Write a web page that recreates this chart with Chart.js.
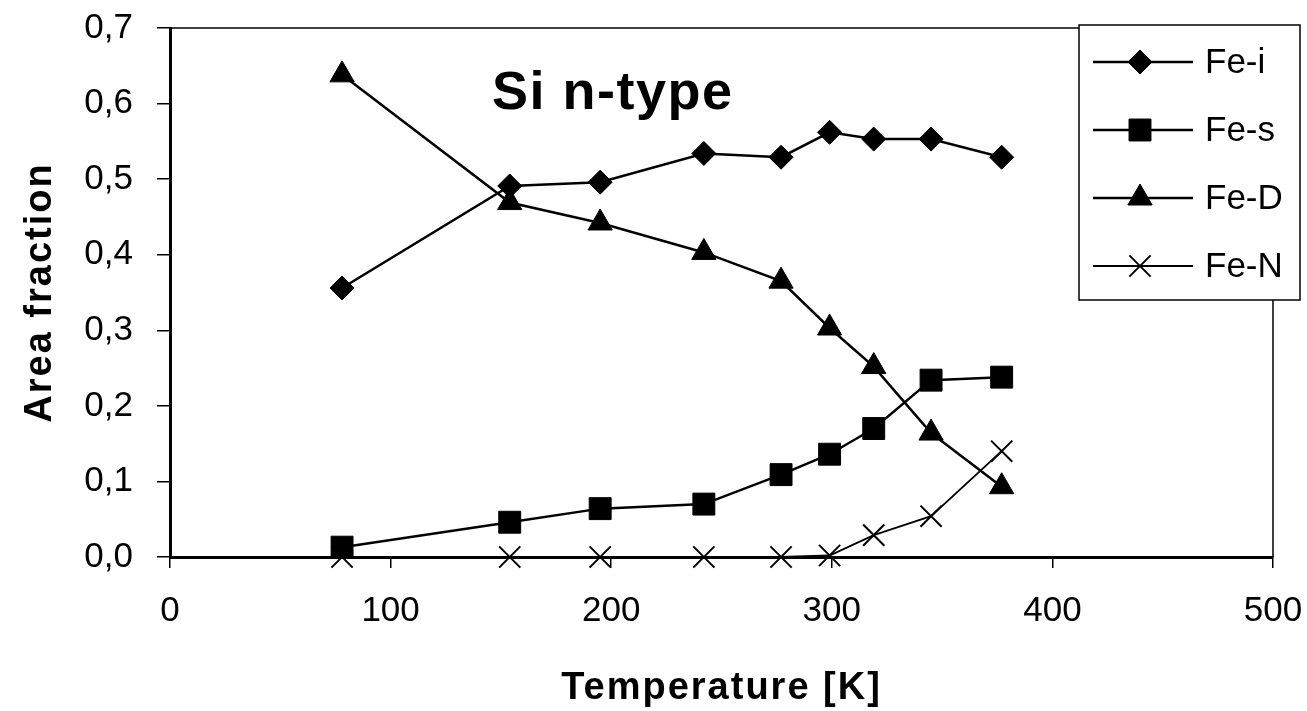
<!DOCTYPE html>
<html>
<head>
<meta charset="utf-8">
<script src="https://cdn.jsdelivr.net/npm/chart.js@4.4.1/dist/chart.umd.min.js"></script>
<style>
  html, body { margin: 0; padding: 0; background: #fff; }
  #wrap { width: 1307px; height: 711px; }
</style>
</head>
<body>
<div id="wrap"><canvas id="myChart" width="1307" height="711"></canvas></div>
<script>
// values
var temps = [78, 154, 195, 242, 277, 299, 319, 345, 377]
var feI = [0.356, 0.491, 0.496, 0.534, 0.529, 0.562, 0.553, 0.553, 0.529]
var feS = [0.013, 0.046, 0.064, 0.070, 0.109, 0.136, 0.170, 0.234, 0.238]
var feD = [0.638, 0.469, 0.442, 0.403, 0.365, 0.303, 0.252, 0.164, 0.093]
var feN = [0, 0, 0, 0, 0, 0.002, 0.029, 0.054, 0.140]
var seriesNames = ['Fe-i', 'Fe-s', 'Fe-D', 'Fe-N']
var xTicks = [0, 100, 200, 300, 400, 500]
var yTicks = [0, 0.1, 0.2, 0.3, 0.4, 0.5, 0.6, 0.7]

var plain = "'Liberation Sans', Arial, sans-serif"

function pts(vals) {
    return vals.map((v, i) => ({ x: temps[i], y: v }))
}

function makeSet(label, vals, style, radius, width) {
    return {
        label: label,
        data: pts(vals),
        borderColor: '#000',
        backgroundColor: '#000',
        borderWidth: width,
        pointStyle: style,
        pointRadius: radius,
        pointHoverRadius: radius,
        pointBackgroundColor: '#000',
        pointBorderColor: '#000',
        pointBorderWidth: style == 'crossRot' ? 2 : 1,
        tension: 0,
        clip: false
    }
}

// fixed box sizes, no extra label padding, spaced-out titles
function fitScale(scale, size) {
    if (scale.isHorizontal()) scale.height = size
    else scale.width = size
    scale.paddingTop = 0
    scale.paddingBottom = 0
    scale.paddingLeft = 0
    scale.paddingRight = 0
    if (scale._spaced) return
    scale._spaced = true
    const orig = scale.drawTitle
    scale.drawTitle = function () {
        this.ctx.save()
        this.ctx.letterSpacing = '2px'
        orig.call(this)
        this.ctx.restore()
    }
}

var framePlugin = {
    id: 'frame',
    beforeDatasetsDraw(chart) {
        const a = chart.chartArea, c = chart.ctx
        c.save()
        c.strokeStyle = '#000'
        c.lineWidth = 1.5
        c.beginPath()
        c.moveTo(a.left, a.top)
        c.lineTo(a.right, a.top)
        c.lineTo(a.right, a.bottom)
        c.stroke()
        // inner title
        const x = chart.scales.x, y = chart.scales.y
        c.fillStyle = '#000'
        c.font = 'bold 54px ' + plain
        c.letterSpacing = '1.5px'
        c.textAlign = 'left'
        c.textBaseline = 'middle'
        c.fillText('Si n-type', x.getPixelForValue(146), y.getPixelForValue(0.612))
        c.restore()
    }
}

var legendPlugin = {
    id: 'boxLegend',
    afterDraw(chart) {
        const a = chart.chartArea, c = chart.ctx
        const left = a.right - 194, top = a.top - 3, w = 221, h = 275
        c.save()
        c.fillStyle = '#fff'
        c.fillRect(left, top, w, h)
        c.strokeStyle = '#000'
        c.lineWidth = 1.5
        c.strokeRect(left, top, w, h)
        chart.data.datasets.forEach((ds, i) => {
            const yy = top + 37 + i * 68
            c.strokeStyle = '#000'
            c.lineWidth = ds.borderWidth
            c.beginPath()
            c.moveTo(left + 14, yy)
            c.lineTo(left + 114, yy)
            c.stroke()
            c.fillStyle = '#000'
            c.lineWidth = ds.pointBorderWidth
            Chart.helpers.drawPoint(c, { pointStyle: ds.pointStyle, radius: ds.pointRadius, rotation: 0, borderWidth: ds.pointBorderWidth }, left + 61, yy)
            c.font = '35px ' + plain
            c.textAlign = 'left'
            c.textBaseline = 'middle'
            c.fillText(ds.label, left + 126, yy + 1)
        })
        c.restore()
    }
}

var ctx = document.getElementById('myChart').getContext('2d')
var myChart = new Chart(ctx, {
    type: 'line',
    data: {
        datasets: [
            makeSet(seriesNames[0], feI, 'rectRot', 12, 2.5),
            makeSet(seriesNames[1], feS, 'rect', 15.5, 2.5),
            makeSet(seriesNames[2], feD, 'triangle', 14, 2.5),
            makeSet(seriesNames[3], feN, 'crossRot', 15, 1.8)
        ]
    },
    options: {
        responsive: false,
        animation: false,
        events: [],
        layout: { padding: { left: 0, top: 28, right: 34, bottom: 0 } },
        plugins: {
            legend: { display: false },
            tooltip: { enabled: false }
        },
        scales: {
            x: {
                type: 'linear',
                min: xTicks[0],
                max: xTicks[xTicks.length - 1],
                afterFit(scale) { fitScale(scale, 154) },
                afterBuildTicks(scale) { scale.ticks = xTicks.map(v => ({ value: v })) },
                border: { display: true, color: '#000', width: 3 },
                grid: { drawOnChartArea: false, drawTicks: true, tickLength: 11, color: '#000', lineWidth: 1.5 },
                ticks: {
                    color: '#000',
                    padding: 22,
                    maxRotation: 0,
                    font: { family: plain, size: 35 },
                    callback: v => String(v)
                },
                title: {
                    display: true,
                    text: 'Temperature [K]',
                    color: '#000',
                    padding: { top: 0, bottom: 0 },
                    font: { family: plain, size: 38, weight: 'bold' }
                }
            },
            y: {
                min: yTicks[0],
                max: yTicks[yTicks.length - 1],
                afterFit(scale) { fitScale(scale, 170) },
                afterBuildTicks(scale) { scale.ticks = yTicks.map(v => ({ value: v })) },
                border: { display: true, color: '#000', width: 3 },
                grid: { drawOnChartArea: false, drawTicks: true, tickLength: 13, color: '#000', lineWidth: 1.5 },
                ticks: {
                    color: '#000',
                    padding: 24,
                    font: { family: plain, size: 35 },
                    callback: v => v.toFixed(1).replace('.', ',')
                },
                title: {
                    display: true,
                    text: 'Area fraction',
                    color: '#000',
                    padding: { top: 18, bottom: 0 },
                    font: { family: plain, size: 38, weight: 'bold' }
                }
            }
        }
    },
    plugins: [framePlugin, legendPlugin]
})
</script>
</body>
</html>
